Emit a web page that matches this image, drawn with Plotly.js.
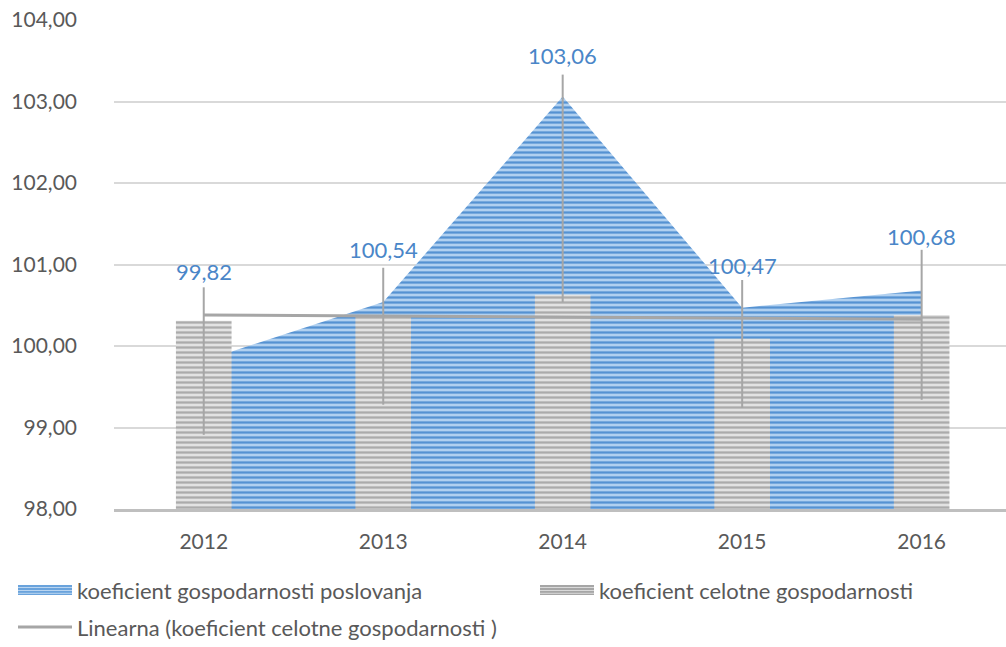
<!DOCTYPE html>
<html>
<head>
<meta charset="utf-8">
<script src="https://cdn.plot.ly/plotly-3.0.1.min.js"></script>
<style>
  html, body { margin: 0; padding: 0; background: #ffffff; overflow: hidden; }
  #chart { width: 1006px; height: 647px; }
</style>
</head>
<body>
<div id="chart"></div>
<script>
// ---- data ----
const years = ['2012', '2013', '2014', '2015', '2016'];
const poslovanja = [99.82, 100.54, 103.06, 100.47, 100.68];   // koeficient gospodarnosti poslovanja (area)
const celotne = [100.31, 100.36, 100.63, 100.09, 100.38];     // koeficient celotne gospodarnosti (bars)
const yTicks = [98, 99, 100, 101, 102, 103, 104];

const seriesNames = [
  'koeficient gospodarnosti poslovanja',
  'koeficient celotne gospodarnosti',
  'Linearna (koeficient celotne gospodarnosti )'
];

// linear trendline of the bar series (least squares over category index)
function linearTrend(vals) {
  const n = vals.length;
  let sx = 0, sy = 0, sxy = 0, sxx = 0;
  vals.forEach((v, i) => { sx += i; sy += v; sxy += i * v; sxx += i * i; });
  const b = (n * sxy - sx * sy) / (n * sxx - sx * sx);
  const a = (sy - b * sx) / n;
  return vals.map((_, i) => a + b * i);
}
const trend = linearTrend(celotne);

const fmt = v => v.toFixed(2).replace('.', ',');

// ---- layout constants (label placement, not data) ----
const labelY = [100.92, 101.19, 103.56, 100.99, 101.34];
const leaderTop = [100.72, 100.96, 103.33, 100.81, 101.18];
const leaderBottom = [98.91, 99.28, 100.54, 99.24, 99.34];

const FONT = 'Lato, "Open Sans", sans-serif';
const GREY_TXT = '#595959';
const BLUE_TXT = '#4a86c8';
const XRANGE = [-0.5, 4.47];
const YRANGE = [98, 104];

const traces = [
  {
    type: 'scatter',
    x: years,
    y: poslovanja,
    name: seriesNames[0],
    mode: 'lines',
    line: { width: 0, color: '#5b9bd5' },
    fill: 'tozeroy',
    fillcolor: '#a8cbee',
    fillpattern: { shape: '-', bgcolor: '#b0d0f0', fgcolor: '#5592d2', size: 5, solidity: 0.45 },
    xaxis: 'x', yaxis: 'y',
    hoverinfo: 'skip',
    showlegend: false
  },
  {
    type: 'bar',
    x: years,
    y: celotne,
    name: seriesNames[1],
    width: 0.31,
    marker: {
      color: '#dcdcdc',
      line: { width: 0 },
      pattern: { shape: '-', bgcolor: '#e2e2e2', fgcolor: '#ababab', size: 5, solidity: 0.45 }
    },
    xaxis: 'x2', yaxis: 'y2',
    hoverinfo: 'skip',
    showlegend: false
  },
  {
    type: 'scatter',
    x: years,
    y: trend,
    name: seriesNames[2],
    mode: 'lines',
    line: { width: 3, color: '#a6a6a6' },
    xaxis: 'x2', yaxis: 'y2',
    hoverinfo: 'skip',
    showlegend: false
  }
];

const shapes = [];
const annotations = [];

// leader lines + data labels (category axis positions are category indices)
years.forEach((yr, i) => {
  shapes.push({
    type: 'line', xref: 'x', yref: 'y', layer: 'above',
    x0: i, x1: i, y0: leaderBottom[i], y1: leaderTop[i],
    line: { color: '#a6a6a6', width: 2 }
  });
  annotations.push({
    xref: 'x', yref: 'y', x: i, y: labelY[i],
    text: fmt(poslovanja[i]), showarrow: false,
    xanchor: 'center', yanchor: 'middle',
    font: { family: FONT, size: 22, color: BLUE_TXT }
  });
});

// custom legend (paper coords: plot spans x 114..1006 px, y 20..509 px)
const px = p => (p - 114) / 892;
const py = p => (509 - p) / 489;

// item 1 symbol (blue striped)
shapes.push({ type: 'rect', xref: 'paper', yref: 'paper', x0: px(18), x1: px(72), y0: py(595), y1: py(585),
  fillcolor: '#6aa3dc', line: { width: 0 } });
[587.5, 590.5, 593.3].forEach(yy => shapes.push({ type: 'line', xref: 'paper', yref: 'paper',
  x0: px(18), x1: px(72), y0: py(yy), y1: py(yy), line: { color: '#b9d5f1', width: 1 } }));
annotations.push({ xref: 'paper', yref: 'paper', x: px(75), y: py(590), xanchor: 'left', yanchor: 'middle',
  text: seriesNames[0], showarrow: false, font: { family: FONT, size: 22, color: GREY_TXT } });

// item 2 symbol (grey striped)
shapes.push({ type: 'rect', xref: 'paper', yref: 'paper', x0: px(540), x1: px(594), y0: py(595), y1: py(585),
  fillcolor: '#a6a6a6', line: { width: 0 } });
[587.5, 590.5, 593.3].forEach(yy => shapes.push({ type: 'line', xref: 'paper', yref: 'paper',
  x0: px(540), x1: px(594), y0: py(yy), y1: py(yy), line: { color: '#d9d9d9', width: 1 } }));
annotations.push({ xref: 'paper', yref: 'paper', x: px(597), y: py(590), xanchor: 'left', yanchor: 'middle',
  text: seriesNames[1], showarrow: false, font: { family: FONT, size: 22, color: GREY_TXT } });

// item 3 (trendline)
shapes.push({ type: 'line', xref: 'paper', yref: 'paper', x0: px(18), x1: px(72), y0: py(627), y1: py(627),
  line: { color: '#a6a6a6', width: 3 } });
annotations.push({ xref: 'paper', yref: 'paper', x: px(75), y: py(627), xanchor: 'left', yanchor: 'middle',
  text: seriesNames[2], showarrow: false, font: { family: FONT, size: 22, color: GREY_TXT } });

const layout = {
  width: 1006,
  height: 647,
  margin: { l: 114, r: 0, t: 20, b: 138 },
  paper_bgcolor: '#ffffff',
  plot_bgcolor: '#ffffff',
  separators: ',.',
  showlegend: false,
  font: { family: FONT, size: 21, color: GREY_TXT },
  xaxis: {
    type: 'category',
    categoryorder: 'array', categoryarray: years,
    range: XRANGE,
    showgrid: false,
    showline: true, linecolor: '#bfbfbf', linewidth: 3,
    ticks: '', ticklabelstandoff: 12,
    tickfont: { family: FONT, size: 21, color: GREY_TXT },
    fixedrange: true
  },
  yaxis: {
    range: YRANGE,
    tickvals: yTicks,
    tickformat: '.2f',
    showgrid: true, gridcolor: '#d9d9d9', gridwidth: 2,
    zeroline: false,
    showline: false,
    ticks: '', ticklabelstandoff: 36,
    tickfont: { family: FONT, size: 21, color: GREY_TXT },
    fixedrange: true
  },
  xaxis2: {
    type: 'category',
    categoryorder: 'array', categoryarray: years,
    range: XRANGE,
    overlaying: 'x', anchor: 'y2',
    visible: false, fixedrange: true
  },
  yaxis2: {
    range: YRANGE,
    overlaying: 'y', anchor: 'x2',
    visible: false, fixedrange: true
  },
  shapes: shapes,
  annotations: annotations
};

Plotly.newPlot('chart', traces, layout, { displayModeBar: false, staticPlot: true });
</script>
</body>
</html>
